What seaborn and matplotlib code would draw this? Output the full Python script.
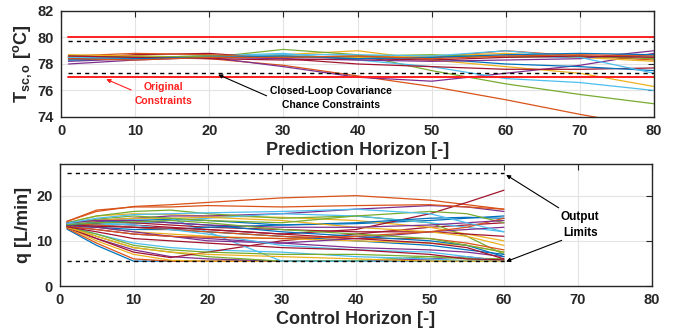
import numpy as np
import pandas as pd
import matplotlib
matplotlib.use("Agg")
import matplotlib.pyplot as plt
import seaborn as sns

# ---------------- data ----------------
matlab_colors = ["#0072BD", "#D95319", "#EDB120", "#7E2F8E", "#77AC30", "#4DBEEE", "#A2142F"]

top_k = [1, 10, 20, 30, 40, 50, 60, 70, 80]
top_series = [
    [78.4, 78.4, 78.5, 78.5, 78.5, 78.5, 78.6, 78.5, 78.6],
    [78.5, 78.6, 78.4, 77.9, 77.1, 76.3, 75.3, 74.2, 73.2],
    [78.6, 78.5, 78.6, 78.7, 79.0, 78.3, 77.8, 77.3, 76.3],
    [78.0, 78.3, 78.5, 77.8, 77.0, 76.7, 77.3, 77.9, 78.8],
    [78.5, 78.6, 78.5, 79.1, 78.7, 77.5, 76.5, 75.7, 75.0],
    [78.3, 78.4, 78.6, 78.8, 78.3, 77.8, 76.9, 76.6, 76.0],
    [78.4, 78.7, 78.8, 78.4, 78.0, 77.8, 77.6, 77.6, 77.7],
    [78.5, 78.5, 78.6, 78.6, 78.5, 78.4, 78.0, 77.8, 77.5],
    [78.6, 78.8, 78.7, 78.5, 78.6, 78.5, 79.0, 78.6, 78.3],
    [78.7, 78.6, 78.5, 78.6, 78.5, 78.6, 78.8, 78.5, 78.2],
    [78.2, 78.4, 78.5, 78.4, 78.3, 78.2, 78.3, 78.4, 79.0],
    [78.6, 78.5, 78.6, 78.5, 78.6, 78.7, 78.5, 78.6, 78.4],
    [78.5, 78.4, 78.5, 78.7, 78.7, 78.6, 79.0, 78.5, 77.3],
    [78.6, 78.5, 78.4, 78.3, 78.4, 78.3, 78.5, 78.6, 78.5],
    [78.3, 78.4, 78.5, 78.6, 78.4, 78.5, 78.7, 78.8, 78.7],
    [78.4, 78.3, 78.5, 78.5, 78.6, 78.4, 78.6, 78.7, 78.6],
]
T_upper_orig, T_lower_orig = 80.0, 77.0
T_upper_cc, T_lower_cc = 79.7, 77.3

bot_k = [1, 5, 10, 15, 20, 30, 40, 50, 55, 60]
bot_series = [
    [12.6, 9.0, 5.5, 5.5, 5.5, 5.5, 5.5, 5.5, 5.5, 5.5],
    [12.8, 9.5, 6.0, 5.5, 5.5, 5.5, 5.5, 5.5, 5.5, 5.5],
    [13.0, 10.0, 7.0, 5.7, 5.5, 5.5, 5.5, 5.8, 5.6, 5.5],
    [13.0, 10.5, 8.0, 6.5, 6.0, 5.5, 5.5, 6.0, 6.5, 5.5],
    [13.2, 11.0, 8.5, 7.5, 6.5, 5.5, 5.6, 6.5, 6.0, 5.6],
    [13.3, 11.5, 9.5, 8.5, 8.0, 7.5, 6.5, 6.0, 5.6, 5.5],
    [13.0, 10.5, 7.5, 6.3, 7.5, 10.0, 11.5, 13.0, 13.5, 14.0],
    [13.5, 14.0, 14.5, 14.8, 14.5, 13.5, 13.8, 14.5, 15.0, 15.5],
    [14.3, 16.5, 17.6, 18.0, 18.5, 19.5, 20.0, 19.0, 18.0, 17.0],
    [14.0, 15.5, 16.0, 15.8, 15.5, 15.2, 14.5, 13.0, 11.5, 10.0],
    [13.8, 14.5, 15.0, 15.5, 15.5, 16.0, 17.0, 17.8, 17.5, 16.5],
    [14.0, 15.5, 16.5, 16.8, 16.0, 15.0, 15.5, 14.0, 11.0, 7.0],
    [13.6, 14.2, 14.8, 15.0, 12.0, 5.5, 5.5, 5.5, 5.5, 5.5],
    [13.7, 13.8, 13.5, 13.0, 12.5, 11.5, 12.5, 16.0, 18.5, 21.2],
    [13.4, 13.5, 13.0, 12.5, 12.0, 11.0, 10.0, 9.0, 8.0, 7.0],
    [14.3, 16.8, 17.5, 17.5, 17.8, 17.5, 17.8, 18.0, 17.5, 17.0],
    [13.5, 13.0, 12.0, 11.5, 11.0, 10.5, 10.0, 9.5, 9.0, 7.5],
    [13.2, 12.5, 11.5, 11.0, 10.5, 9.5, 8.5, 8.0, 7.5, 6.5],
    [13.0, 11.5, 9.0, 8.0, 7.5, 7.0, 7.0, 6.5, 6.2, 6.0],
    [13.5, 13.5, 13.8, 14.5, 15.0, 16.0, 15.5, 14.0, 13.0, 12.0],
    [13.9, 14.2, 14.0, 13.5, 13.0, 12.5, 12.0, 12.0, 11.5, 11.0],
    [13.3, 13.0, 12.5, 12.5, 13.0, 13.5, 14.0, 15.0, 15.2, 15.0],
    [13.8, 13.5, 13.0, 12.5, 12.0, 11.0, 10.5, 10.5, 9.5, 8.0],
    [13.6, 14.5, 15.0, 15.0, 15.2, 14.5, 13.0, 12.0, 11.0, 9.0],
    [13.4, 13.0, 12.0, 11.0, 10.0, 9.5, 10.5, 12.0, 12.5, 13.0],
    [13.7, 14.8, 15.5, 15.0, 14.5, 14.0, 15.5, 16.5, 16.0, 14.0],
    [13.8, 14.0, 13.5, 12.5, 11.5, 9.0, 8.0, 7.5, 6.5, 5.5],
    [13.6, 13.2, 13.0, 12.8, 12.5, 11.5, 10.5, 9.5, 8.5, 6.0],
    [13.5, 14.0, 14.5, 14.0, 13.5, 12.0, 11.0, 10.0, 9.0, 6.5],
    [13.2, 12.5, 11.5, 11.0, 10.8, 10.5, 11.0, 12.0, 13.0, 15.0],
    [13.0, 11.0, 8.5, 7.5, 7.0, 6.5, 6.0, 5.5, 5.5, 5.5],
    [14.0, 14.5, 14.5, 14.0, 13.5, 13.0, 13.0, 13.5, 14.0, 14.5],
    [13.6, 14.0, 14.2, 14.5, 14.0, 12.5, 11.5, 10.5, 9.0, 7.5],
    [13.9, 15.0, 15.8, 16.0, 16.2, 16.5, 17.0, 16.0, 14.0, 12.0],
    [13.1, 12.0, 10.5, 10.0, 9.5, 8.5, 8.0, 7.0, 6.0, 5.8],
]
q_upper, q_lower = 25.0, 5.5

# ---------------- style ----------------
sns.set_theme(style="whitegrid")
plt.rcParams["font.family"] = ["Liberation Sans", "DejaVu Sans"]
plt.rcParams["font.weight"] = "bold"
plt.rcParams["mathtext.fontset"] = "custom"
plt.rcParams["mathtext.rm"] = "Liberation Sans:bold"
plt.rcParams["mathtext.bf"] = "Liberation Sans:bold"
plt.rcParams["mathtext.it"] = "Liberation Sans:bold"

def to_long(ks, series):
    rows = []
    for i, s in enumerate(series):
        for k, v in zip(ks, s):
            rows.append({"id": i, "k": k, "v": v})
    return pd.DataFrame(rows)

fig = plt.figure(figsize=(6.78, 3.30), dpi=100)
ax1 = fig.add_axes([0.090, 0.6455, 0.8746, 0.3212])
ax2 = fig.add_axes([0.0878, 0.1333, 0.8739, 0.3697])

def style_axes(ax):
    ax.set_facecolor("white")
    ax.grid(True, color="#e3e3e3", linewidth=0.8)
    for sp in ax.spines.values():
        sp.set_color("#262626")
        sp.set_linewidth(1.0)
        sp.set_visible(True)
    ax.tick_params(direction="in", length=4, width=0.8, color="#262626",
                   top=True, right=True, labelsize=10.5, pad=5,
                   labelcolor="#262626")
    for lab in ax.get_xticklabels() + ax.get_yticklabels():
        lab.set_fontweight("bold")

# top panel
df_top = to_long(top_k, top_series)
pal_top = [matlab_colors[i % 7] for i in range(len(top_series))]
sns.lineplot(data=df_top, x="k", y="v", hue="id", palette=pal_top, legend=False,
             estimator=None, linewidth=0.9, ax=ax1)
ax1.plot([1, 80], [T_upper_orig] * 2, color="#ff2020", lw=1.4)
ax1.plot([1, 80], [T_lower_orig] * 2, color="#ff2020", lw=1.4)
ax1.plot([1, 80], [T_upper_cc] * 2, color="black", lw=1.0, ls=(0, (3, 3)))
ax1.plot([1, 80], [T_lower_cc] * 2, color="black", lw=1.0, ls=(0, (3, 3)))
ax1.set_xlim(0, 80)
ax1.set_ylim(74, 82)
ax1.set_xticks(range(0, 81, 10))
ax1.set_yticks(range(74, 83, 2))
ax1.set_xlabel("Prediction Horizon [-]", fontsize=13, fontweight="bold",
               color="#262626", labelpad=3)
ax1.set_ylabel(r"T$_{\mathrm{sc,o}}$ [$^{\mathrm{o}}$C]", fontsize=13,
               fontweight="bold", color="#262626", labelpad=3)
style_axes(ax1)
ax1.annotate("Original\nConstraints", xy=(6.1, 76.85), xytext=(13.8, 75.75),
             ha="center", va="center", fontsize=7.5, fontweight="bold",
             color="#ff2020", linespacing=1.5,
             arrowprops=dict(arrowstyle="-|>", color="#ff2020", lw=0.8,
                             shrinkA=0, shrinkB=0, mutation_scale=6,
                             relpos=(0.0, 0.6)))
ax1.annotate("Closed-Loop Covariance\nChance Constraints", xy=(21.2, 77.2),
             xytext=(36.4, 75.4), ha="center", va="center", fontsize=7.5,
             fontweight="bold", color="black", linespacing=1.5,
             arrowprops=dict(arrowstyle="-|>", color="black", lw=0.8,
                             shrinkA=0, shrinkB=0, mutation_scale=6,
                             relpos=(0.0, 0.55)))

# bottom panel
df_bot = to_long(bot_k, bot_series)
pal_bot = [matlab_colors[i % 7] for i in range(len(bot_series))]
sns.lineplot(data=df_bot, x="k", y="v", hue="id", palette=pal_bot, legend=False,
             estimator=None, linewidth=0.9, ax=ax2)
ax2.plot([1, 60], [q_upper] * 2, color="black", lw=1.0, ls=(0, (3, 3)))
ax2.plot([1, 60], [q_lower] * 2, color="black", lw=1.0, ls=(0, (3, 3)))
ax2.set_xlim(0, 80)
ax2.set_ylim(0, 27)
ax2.set_xticks(range(0, 81, 10))
ax2.set_yticks([0, 10, 20])
ax2.set_xlabel("Control Horizon [-]", fontsize=13, fontweight="bold",
               color="#262626", labelpad=3)
ax2.set_ylabel("q [L/min]", fontsize=13, fontweight="bold", color="#262626",
               labelpad=3)
style_axes(ax2)
ax2.text(70.3, 13.5, "Output\nLimits", ha="center", va="center", fontsize=8.5,
         fontweight="bold", color="black", linespacing=1.5)
ax2.annotate("", xy=(60.3, 24.6), xytext=(67.4, 17.3),
             arrowprops=dict(arrowstyle="-|>", color="black", lw=0.8,
                             shrinkA=0, shrinkB=0, mutation_scale=6))
ax2.annotate("", xy=(60.3, 5.4), xytext=(67.8, 10.1),
             arrowprops=dict(arrowstyle="-|>", color="black", lw=0.8,
                             shrinkA=0, shrinkB=0, mutation_scale=6))

fig.savefig("out.png", dpi=100)
